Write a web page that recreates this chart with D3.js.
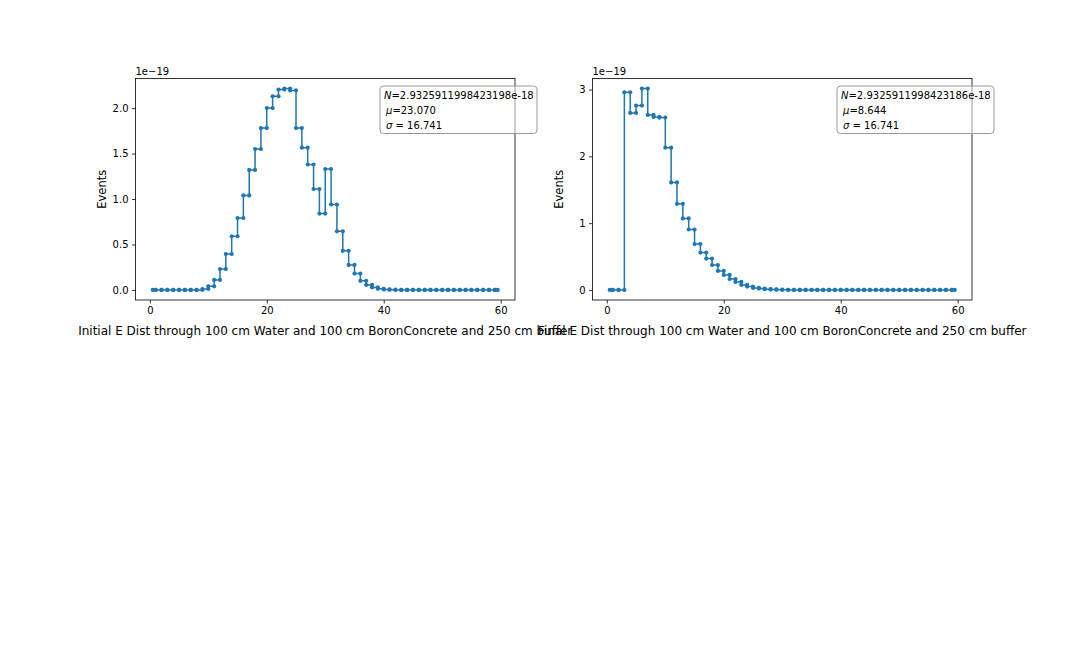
<!DOCTYPE html>
<html>
<head>
<meta charset="utf-8">
<script src="https://cdn.jsdelivr.net/npm/d3@7"></script>
<style>
  body { margin: 0; background: #fff; }
  svg { display: block; font-family: "DejaVu Sans", sans-serif; }
</style>
</head>
<body>
<svg id="chart" width="1080" height="648"></svg>
<script>
// bin edges (energy), shared by both panels
const edges = [0.5, 1, 2, 3, 4, 5, 6, 7, 8, 9, 10, 11, 12, 13, 14, 15, 16, 17, 18, 19, 20,
  21, 22, 23, 24, 25, 26, 27, 28, 29, 30, 31, 32, 33, 34, 35, 36, 37, 38, 39, 40,
  41, 42, 43, 44, 45, 46, 47, 48, 49, 50, 51, 52, 53, 54, 55, 56, 57, 58, 59, 59.5];

// events per bin, in units of 1e-19
const initialE = [0, 0, 0, 0, 0, 0, 0, 0, 0, 0.01,
  0.04, 0.11, 0.23, 0.395, 0.59, 0.79, 1.04, 1.32, 1.55, 1.78,
  2.00, 2.13, 2.205, 2.215, 2.195, 1.78, 1.565, 1.38, 1.11, 0.84,
  1.33, 0.94, 0.645, 0.43, 0.275, 0.18, 0.10, 0.055, 0.028, 0.012,
  0.006, 0.003, 0, 0, 0, 0, 0, 0, 0, 0,
  0, 0, 0, 0, 0, 0, 0, 0, 0, 0];

const finalE = [0, 0, 0, 2.96, 2.65, 2.76, 3.015, 2.62, 2.59, 2.58,
  2.13, 1.61, 1.29, 1.07, 0.905, 0.687, 0.56, 0.47, 0.373, 0.284,
  0.224, 0.164, 0.12, 0.075, 0.05, 0.03, 0.02, 0.012, 0.008, 0.004,
  0.002, 0, 0, 0, 0, 0, 0, 0, 0, 0,
  0, 0, 0, 0, 0, 0, 0, 0, 0, 0,
  0, 0, 0, 0, 0, 0, 0, 0, 0, 0];

const xTicks = [0, 20, 40, 60];
const initialYTicks = [0, 0.5, 1.0, 1.5, 2.0];
const finalYTicks = [0, 1, 2, 3];

const initialStats = ["2.9325911998423198e-18", "23.070", "16.741"];
const finalStats = ["2.9325911998423186e-18", "8.644", "16.741"];

const xLabels = [
  "Initial E Dist through 100 cm Water and 100 cm BoronConcrete and 250 cm buffer",
  "Final E Dist through 100 cm Water and 100 cm BoronConcrete and 250 cm buffer"
];

const svg = d3.select("#chart");
const color = "#1f77b4";

function drawPanel(opt) {
  const { left, right, top, bottom, values, yTicks, yFormat, stats, label } = opt;

  // matplotlib-style 5% margins around the data
  const xMin = d3.min(edges), xMax = d3.max(edges);
  const xPad = (xMax - xMin) * 0.05;
  const x = d3.scaleLinear()
    .domain([xMin - xPad, xMax + xPad])
    .range([left, right]);

  const yMax = d3.max(values);
  const yPad = yMax * 0.05;
  const y = d3.scaleLinear()
    .domain([-yPad, yMax + yPad])
    .range([bottom, top]);

  // two points per bin: low edge and high edge
  const pts = [];
  values.forEach((v, i) => {
    pts.push([edges[i], v]);
    pts.push([edges[i + 1], v]);
  });

  const g = svg.append("g");

  g.append("path")
    .datum(pts)
    .attr("fill", "none")
    .attr("stroke", color)
    .attr("stroke-width", 1.5)
    .attr("stroke-linejoin", "round")
    .attr("d", d3.line().x(d => x(d[0])).y(d => y(d[1])));

  g.selectAll("circle")
    .data(pts)
    .join("circle")
    .attr("cx", d => x(d[0]))
    .attr("cy", d => y(d[1]))
    .attr("r", 2.1)
    .attr("fill", color);

  // frame
  g.append("rect")
    .attr("x", left).attr("y", top)
    .attr("width", right - left).attr("height", bottom - top)
    .attr("fill", "none")
    .attr("stroke", "#000")
    .attr("stroke-width", 0.8);

  const xAxis = g.append("g")
    .attr("transform", `translate(0,${bottom})`)
    .call(d3.axisBottom(x).tickValues(xTicks).tickSize(3.5).tickPadding(3.5).tickFormat(d3.format("d")));
  const yAxis = g.append("g")
    .attr("transform", `translate(${left},0)`)
    .call(d3.axisLeft(y).tickValues(yTicks).tickSize(3.5).tickPadding(3.5).tickFormat(yFormat));
  [xAxis, yAxis].forEach(a => {
    a.select(".domain").remove();
    a.selectAll("line").attr("stroke-width", 0.8);
    a.selectAll("text").attr("font-size", 10).attr("font-family", "DejaVu Sans").attr("fill", "#000");
  });

  // offset text
  g.append("text")
    .attr("x", left).attr("y", top - 4)
    .attr("font-size", 10)
    .text("1e\u221219");

  g.append("text")
    .attr("transform", `translate(${left - 30},${(top + bottom) / 2}) rotate(-90)`)
    .attr("text-anchor", "middle")
    .attr("font-size", 11.5)
    .text("Events");

  g.append("text")
    .attr("x", (left + right) / 2).attr("y", bottom + 35)
    .attr("text-anchor", "middle")
    .attr("font-size", 12)
    .text(label);

  // stats box
  const bx = right - 135, by = top + 7.5;
  g.append("rect")
    .attr("x", bx).attr("y", by)
    .attr("width", 157).attr("height", 47.5)
    .attr("rx", 3.5)
    .attr("fill", "#fff").attr("fill-opacity", 0.5)
    .attr("stroke", "#999").attr("stroke-width", 1);

  const t = g.append("text").attr("font-size", 10);
  const l1 = t.append("tspan").attr("x", bx + 4).attr("y", by + 13);
  l1.append("tspan").attr("font-style", "italic").text("N");
  l1.append("tspan").text("=" + stats[0]);
  const l2 = t.append("tspan").attr("x", bx + 6).attr("y", by + 28);
  l2.append("tspan").attr("font-style", "italic").text("\u03bc");
  l2.append("tspan").text("=" + stats[1]);
  const l3 = t.append("tspan").attr("x", bx + 6).attr("y", by + 43);
  l3.append("tspan").attr("font-style", "italic").text("\u03c3");
  l3.append("tspan").text(" = " + stats[2]);
}

drawPanel({
  left: 135.5, right: 515, top: 78.5, bottom: 300,
  values: initialE, yTicks: initialYTicks, yFormat: d3.format(".1f"),
  stats: initialStats, label: xLabels[0]
});

drawPanel({
  left: 592.5, right: 972, top: 78.5, bottom: 300,
  values: finalE, yTicks: finalYTicks, yFormat: d3.format("d"),
  stats: finalStats, label: xLabels[1]
});
</script>
</body>
</html>
